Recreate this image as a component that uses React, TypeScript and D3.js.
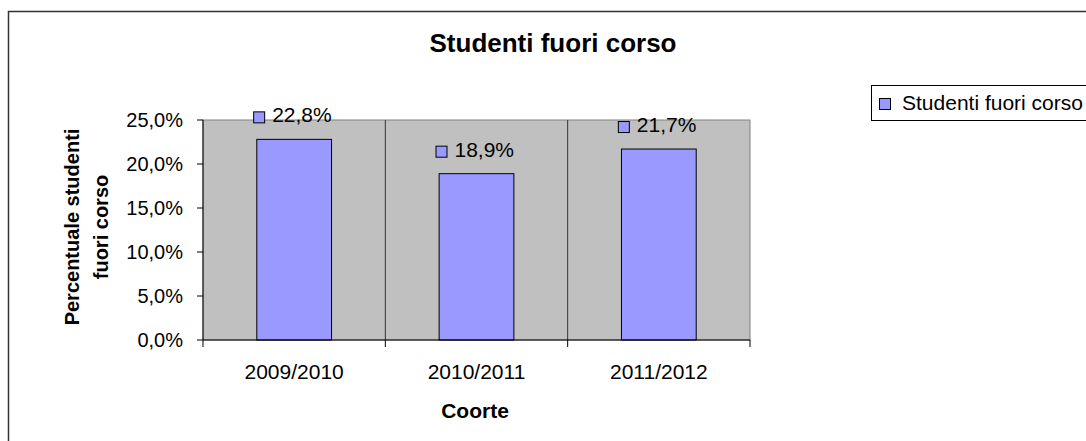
import * as d3 from "d3";

const cohorts = ["2009/2010", "2010/2011", "2011/2012"];
const outOfCourse = [22.8, 18.9, 21.7];
const yTickValues = [0, 5, 10, 15, 20, 25];
const seriesName = "Studenti fuori corso";

const fmt = (v: number) => v.toFixed(1).replace(".", ",") + "%";

const App = () => {
  const width = 1086;
  const height = 441;
  const plot = { left: 203, right: 750, top: 120, bottom: 340 };
  const font = "Liberation Sans, Arial, sans-serif";

  const x = d3.scaleBand().domain(cohorts).range([plot.left, plot.right]).paddingInner(0).paddingOuter(0);
  const y = d3.scaleLinear().domain([0, 25]).range([plot.bottom, plot.top]);
  const barW = x.bandwidth() * 0.41;
  const bounds = [plot.left, ...cohorts.map(c => (x(c) as number) + x.bandwidth())];

  return (
    <svg width={width} height={height} style={{ position: "absolute", left: 0, top: 0 }} fontFamily={font}>
      <rect x={8.5} y={11.5} width={1100} height={450} fill="white" stroke="#333" strokeWidth={1.5} />
      <text x={553} y={52} textAnchor="middle" fontSize={26} fontWeight="bold">Studenti fuori corso</text>

      <rect x={plot.left} y={plot.top} width={plot.right - plot.left} height={plot.bottom - plot.top} fill="#c0c0c0" stroke="#808080" />
      {bounds.slice(1, -1).map((b, i) => (
        <line key={i} x1={b} x2={b} y1={plot.top} y2={plot.bottom} stroke="#333" />
      ))}

      {cohorts.map((c, i) => {
        const cx = (x(c) as number) + x.bandwidth() / 2;
        const top = y(outOfCourse[i]);
        return (
          <g key={c}>
            <rect x={cx - barW / 2} y={top} width={barW} height={plot.bottom - top} fill="#9999ff" stroke="#000" strokeWidth={1} />
            <rect x={cx - 40.5} y={top - 27.5} width={11} height={11} fill="#9999ff" stroke="#000" />
            <text x={cx - 22} y={top - 17} fontSize={21}>{fmt(outOfCourse[i])}</text>
          </g>
        );
      })}

      <line x1={plot.left} x2={plot.left} y1={plot.top} y2={plot.bottom} stroke="#000" />
      <line x1={plot.left} x2={plot.right} y1={plot.bottom} y2={plot.bottom} stroke="#000" />
      {yTickValues.map(t => (
        <g key={t} transform={`translate(0,${y(t)})`}>
          <line x1={plot.left - 6} x2={plot.left} stroke="#000" />
          <text x={183} dy="0.36em" textAnchor="end" fontSize={20}>{fmt(t)}</text>
        </g>
      ))}
      {bounds.map((b, i) => (
        <line key={i} x1={b} x2={b} y1={plot.bottom} y2={plot.bottom + 7} stroke="#000" />
      ))}
      {cohorts.map(c => (
        <text key={c} x={(x(c) as number) + x.bandwidth() / 2} y={379} textAnchor="middle" fontSize={21}>{c}</text>
      ))}

      <text x={475} y={418} textAnchor="middle" fontSize={21} fontWeight="bold">Coorte</text>
      <text transform="translate(79,227) rotate(-90)" textAnchor="middle" fontSize={20} fontWeight="bold">
        <tspan x={0} dy={0}>Percentuale studenti</tspan>
        <tspan x={0} dy={29}>fuori corso</tspan>
      </text>

      <rect x={871.5} y={85.5} width={230} height={35} fill="white" stroke="#000" />
      <rect x={879.5} y={98.5} width={11} height={11} fill="#9999ff" stroke="#000" />
      <text x={902} y={110} fontSize={21}>{seriesName}</text>
    </svg>
  );
};

export default App;
